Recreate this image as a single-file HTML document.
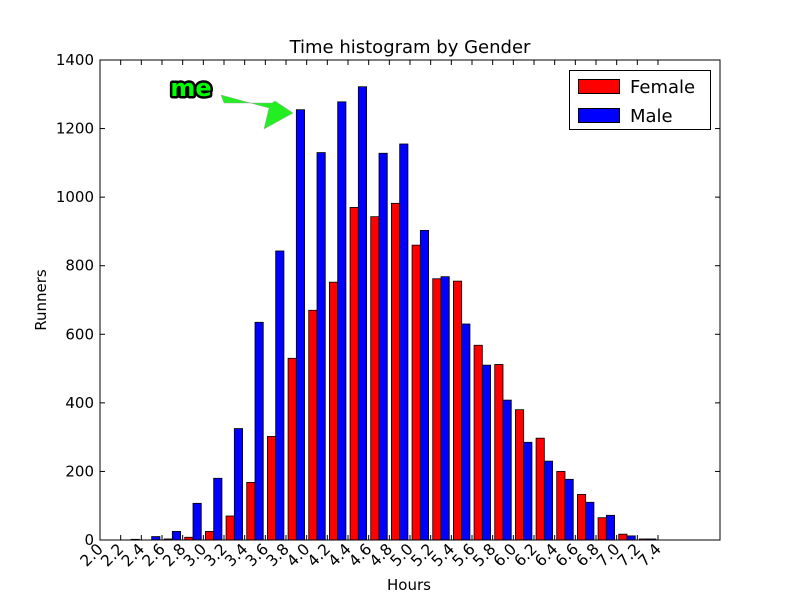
<!DOCTYPE html>
<html><head><meta charset="utf-8"><style>
body{margin:0;background:#fff;}
svg{display:block;font-family:"DejaVu Sans","Liberation Sans",sans-serif;}
</style></head><body>
<svg id="chart" width="800" height="600">
<rect width="800" height="600" fill="#fff"/>
<text x="410" y="53" font-size="18" text-anchor="middle">Time histogram by Gender</text>
<g id="bars"></g>
<rect x="100" y="60" width="620" height="480" fill="none" stroke="#000" stroke-width="1"/>
<g id="ticks"></g>
<text x="409" y="590" font-size="15" text-anchor="middle">Hours</text>
<text x="46" y="300" font-size="15" text-anchor="middle" transform="rotate(-90 46 300)">Runners</text>
<g>
<rect x="569.5" y="70.5" width="141" height="59" fill="#fff" stroke="#000"/>
<g>
<rect x="578.5" y="79.5" width="41" height="14" fill="#f00" stroke="#000"/>
<text x="630" y="93" font-size="18">Female</text></g>
<g>
<rect x="578.5" y="108.5" width="41" height="14" fill="#00f" stroke="#000"/>
<text x="630" y="122" font-size="18">Male</text></g>
</g>
<g>
<text x="191" y="96" font-size="24" font-weight="bold" text-anchor="middle" fill="#0f0" stroke="#000" stroke-width="5" paint-order="stroke" stroke-linejoin="round">me</text>
<polygon points="221,95 269,108 264,129 293,113 275,101 272,103 224,103" fill="#22ee22" stroke="#9a9" stroke-width="0.5"/>
</g>
</svg>
<script>
const binStarts=[2.0,2.2,2.4,2.6,2.8,3.0,3.2,3.4,3.6,3.8,4.0,4.2,4.4,4.6,4.8,5.0,5.2,5.4,5.6,5.8,6.0,6.2,6.4,6.6,6.8,7.0,7.2];
const femaleCounts=[0,0,0,3,8,25,70,168,302,530,670,752,970,943,982,860,762,755,568,512,380,297,200,133,65,17,3];
const maleCounts=[0,2,10,25,107,180,325,635,843,1255,1130,1278,1322,1128,1155,903,768,630,510,408,285,230,177,110,72,12,3];
const xTickLabels=["2.0","2.2","2.4","2.6","2.8","3.0","3.2","3.4","3.6","3.8","4.0","4.2","4.4","4.6","4.8","5.0","5.2","5.4","5.6","5.8","6.0","6.2","6.4","6.6","6.8","7.0","7.2","7.4"];
const yTickValues=[0,200,400,600,800,1000,1200,1400];

const NS="http://www.w3.org/2000/svg";
const X=v=>100+(v-2.0)/6.0*620;
const Y=v=>540-v/1400*480;
const bars=document.getElementById('bars'), ticks=document.getElementById('ticks');
function mk(tag,attrs,parent){const e=document.createElementNS(NS,tag);for(const k in attrs)e.setAttribute(k,attrs[k]);parent.appendChild(e);return e;}
binStarts.forEach((b,i)=>{
  const xr=X(b+0.02), xb=X(b+0.1), w=X(b+0.1)-X(b+0.02);
  const r=mk('rect',{x:xr,y:Y(femaleCounts[i]),width:w,height:540-Y(femaleCounts[i]),fill:'#f00',stroke:'#000','stroke-width':0.8},bars);
  
  
  const m=mk('rect',{x:xb,y:Y(maleCounts[i]),width:w,height:540-Y(maleCounts[i]),fill:'#00f',stroke:'#000','stroke-width':0.8},bars);
  
  
});
xTickLabels.forEach(l=>{
  const x=X(parseFloat(l));
  mk('line',{x1:x,x2:x,y1:540,y2:535,stroke:'#000'},ticks);
  mk('line',{x1:x,x2:x,y1:60,y2:65,stroke:'#000'},ticks);
  const t=mk('text',{x:x+4,y:550,'font-size':15.5,'text-anchor':'end',transform:`rotate(-45 ${x+4} 550)`},ticks);
  t.textContent=l;
  
  
});
yTickValues.forEach(v=>{
  const y=Y(v);
  mk('line',{x1:100,x2:105,y1:y,y2:y,stroke:'#000'},ticks);
  mk('line',{x1:715,x2:720,y1:y,y2:y,stroke:'#000'},ticks);
  const t=mk('text',{x:94,y:y+5,'font-size':15,'text-anchor':'end'},ticks);
  t.textContent=v;
  
  
});
</script>
</body></html>
